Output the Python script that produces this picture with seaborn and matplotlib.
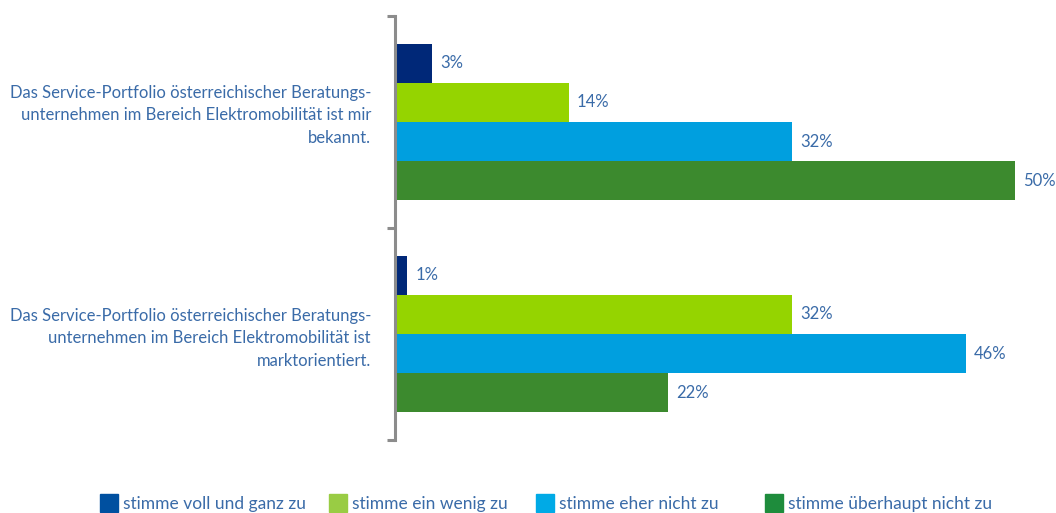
import matplotlib
matplotlib.use("Agg")
import matplotlib.pyplot as plt
import matplotlib.patches as mpatches
import seaborn as sns
import pandas as pd

statements = [
    "Das Service-Portfolio österreichischer Beratungs-\nunternehmen im Bereich Elektromobilität ist mir\nbekannt.",
    "Das Service-Portfolio österreichischer Beratungs-\nunternehmen im Bereich Elektromobilität ist\nmarktorientiert.",
]
answers = ["stimme voll und ganz zu", "stimme ein wenig zu", "stimme eher nicht zu", "stimme überhaupt nicht zu"]
values_statement1 = [3, 14, 32, 50]
values_statement2 = [1, 32, 46, 22]

bar_colors = ["#002878", "#95D400", "#009FDF", "#3C8A2E"]
legend_colors = ["#0050A0", "#99CC44", "#00AAE6", "#1E8C3C"]
text_color = "#3A6BA8"

rows = []
for s, vals in zip(statements, [values_statement1, values_statement2]):
    for a, v in zip(answers, vals):
        rows.append({"statement": s, "answer": a, "value": v})
df = pd.DataFrame(rows)

sns.set_style("white")
plt.rcParams["font.family"] = ["Lato", "DejaVu Sans"]
W, H = 1056, 513
FS = 12

fig = plt.figure(figsize=(10.56, 5.13), dpi=100)
ax = fig.add_axes([0.374, 0.1423, 0.6108, 0.8265])

sns.barplot(data=df, y="statement", x="value", hue="answer", hue_order=answers,
            order=statements, palette=bar_colors, width=0.74, orient="h",
            legend=False, ax=ax, saturation=1, edgecolor="none")

for c in ax.containers:
    ax.bar_label(c, fmt="%d%%", padding=6, color=text_color, fontsize=FS)

ax.set_xlim(0, 52)
ax.set_ylim(1.5, -0.5)
ax.set_xlabel("")
ax.set_ylabel("")
ax.set_xticks([])
for sp in ["top", "right", "bottom"]:
    ax.spines[sp].set_visible(False)
ax.spines["left"].set_color("#8C8C8C")
ax.spines["left"].set_linewidth(2.2)

ax.set_yticks([0, 1])
ax.set_yticklabels(["", ""])
ax.tick_params(axis="y", which="major", length=0, left=False)
ax.set_yticks([-0.5, 0.5, 1.5], minor=True)
ax.tick_params(axis="y", which="minor", left=True, length=5.5, width=2.2, color="#8C8C8C")

label_offsets = [7, -4]
for i, (s, off) in enumerate(zip(statements, label_offsets)):
    ax.annotate(s, xy=(0, i), xycoords=("axes fraction", "data"), xytext=(-24, off),
                textcoords="offset pixels", ha="right", va="center", fontsize=FS,
                color=text_color, linespacing=1.5, multialignment="right")

# legend drawn manually to match uneven spacing
sq_x = [100, 329, 536, 765]
for x, c, a in zip(sq_x, legend_colors, answers):
    fig.patches.append(mpatches.Rectangle((x / W, 1 - 512 / H), 18 / W, 18 / H,
                                          transform=fig.transFigure, color=c, figure=fig))
    fig.text((x + 23) / W, 1 - 504 / H, a, ha="left", va="center", fontsize=12.5,
             color=text_color)

fig.savefig("out.png", dpi=100)
